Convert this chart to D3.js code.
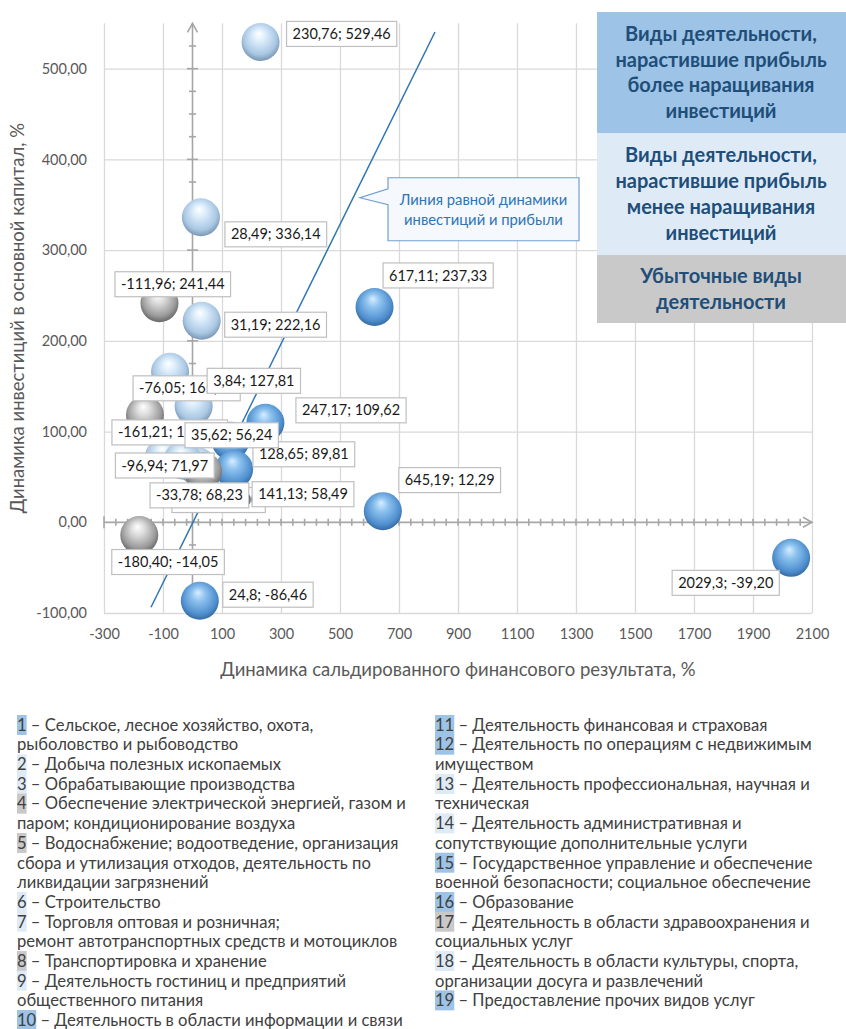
<!DOCTYPE html>
<html>
<head>
<meta charset="UTF-8"/>
<script src="https://d3js.org/d3.v7.min.js"></script>
<title>profit vs investment</title>
<style>
body { margin: 0; background: #fff; }
text { font-family: Lato, 'Open Sans', sans-serif; }
</style>
</head>
<body>
<svg id='big' width=846 height=1029></svg>
<script>
'use strict';

// --- data ---
// profit dynamics (x), investment dynamics (y), group: 0 - profit > invest, 1 - profit < invest, 2 - loss
var profitDyn = [230.76, 28.49, -111.96, 31.19, 617.11, -76.05, 247.17, -161.21, 128.65, 15.00,
                 141.13, -96.94, 3.84, 35.62, -33.78, 645.19, 2029.3, -180.40, 24.8];
var investDyn = [529.46, 336.14, 241.44, 222.16, 237.33, 165.83, 109.62, 118.34, 89.81, 62.00,
                 58.49, 71.97, 127.81, 56.24, 68.23, 12.29, -39.20, -14.05, -86.46];
var groups    = [1, 1, 2, 1, 0, 1, 0, 2, 0, 1,
                 0, 1, 1, 2, 1, 0, 0, 2, 0];
var pointLabels = ['230,76; 529,46', '28,49; 336,14', '-111,96; 241,44', '31,19; 222,16', '617,11; 237,33',
                   '-76,05; 165,83', '247,17; 109,62', '-161,21; 118,34', '128,65; 89,81', '15,00; 62,00',
                   '141,13; 58,49', '-96,94; 71,97', '3,84; 127,81', '35,62; 56,24', '-33,78; 68,23',
                   '645,19; 12,29', '2029,3; -39,20', '-180,40; -14,05', '24,8; -86,46'];

var xTicks = [-300, -100, 100, 300, 500, 700, 900, 1100, 1300, 1500, 1700, 1900, 2100];
var yTicks = [-100, 0, 100, 200, 300, 400, 500];

// equal dynamics line ends
var lineX = [-140.7, 822.0];
var lineY = [-93.7, 540.4];

var groupNames = [
	['Виды деятельности,', 'нарастившие прибыль', 'более наращивания', 'инвестиций'],
	['Виды деятельности,', 'нарастившие прибыль', 'менее наращивания', 'инвестиций'],
	['Убыточные виды', 'деятельности']
];

var legendLeft = [
	[1, 0, ['Сельское, лесное хозяйство, охота,', 'рыболовство и рыбоводство']],
	[2, 1, ['Добыча полезных ископаемых']],
	[3, 1, ['Обрабатывающие производства']],
	[4, 2, ['Обеспечение электрической энергией, газом и', 'паром; кондиционирование воздуха']],
	[5, 2, ['Водоснабжение; водоотведение, организация', 'сбора и утилизация отходов, деятельность по', 'ликвидации загрязнений']],
	[6, 1, ['Строительство']],
	[7, 1, ['Торговля оптовая и розничная;', 'ремонт автотранспортных средств и мотоциклов']],
	[8, 2, ['Транспортировка и хранение']],
	[9, 1, ['Деятельность гостиниц и предприятий', 'общественного питания']],
	[10, 0, ['Деятельность в области информации и связи']]
];
var legendRight = [
	[11, 0, ['Деятельность финансовая и страховая']],
	[12, 0, ['Деятельность по операциям с недвижимым', 'имуществом']],
	[13, 1, ['Деятельность профессиональная, научная и', 'техническая']],
	[14, 1, ['Деятельность административная и', 'сопутствующие дополнительные услуги']],
	[15, 0, ['Государственное управление и обеспечение', 'военной безопасности; социальное обеспечение']],
	[16, 0, ['Образование']],
	[17, 2, ['Деятельность в области здравоохранения и', 'социальных услуг']],
	[18, 1, ['Деятельность в области культуры, спорта,', 'организации досуга и развлечений']],
	[19, 0, ['Предоставление прочих видов услуг']]
];

// label box placement relative to bubble centre: [left, centre y]
var labelPos = [[26, -8], [24, 17], [-44.5, -19], [23, 4], [8.5, -31.5],
                [-37, 16.5], [30.5, -12.5], [-33, 17.5], [22.5, 13.5], [-25, 34],
                [18, 25], [-48.5, 8.5], [13.5, -25.5], [-18, -36], [-32.5, 35],
                [16, -31], [-119, 25], [-27.5, 27], [23, -6]];

var groupFill = ['#9dc3e6', '#deebf7', '#c9c9c9'];

var loc = d3.formatLocale({decimal: ',', thousands: ' ', grouping: [3], currency: ['', ''], minus: '-'});
var fmtY = loc.format('.2f');
var fmtX = loc.format('d');

function main(){
	var svg = d3.select('#big');
	var left = 104, right = 812, top = 23.3, bottom = 613;

	var sx = d3.scaleLinear().domain([-300, 2100]).range([left, right]);
	var sy = d3.scaleLinear().domain([-100, 550]).range([bottom, top]);

	// sphere gradients
	var defs = svg.append('defs');
	var sphereStops = [
		[['#d8eeff', 0], ['#8fc3ef', 0.3], ['#4f8fcf', 0.75], ['#2d5e90', 1]],
		[['#ffffff', 0], ['#dcedfb', 0.28], ['#a9c7e3', 0.72], ['#6a86a4', 1]],
		[['#ffffff', 0], ['#dedede', 0.28], ['#9c9c9c', 0.72], ['#575757', 1]]
	];
	sphereStops.forEach(function(stops, i){
		var g = defs.append('radialGradient')
			.attr('id', 'sph' + i)
			.attr('cx', '50%').attr('cy', '45%').attr('r', '60%')
			.attr('fx', '45%').attr('fy', '28%');
		g.selectAll('stop').data(stops).enter().append('stop')
			.attr('offset', function(d){ return d[1]; })
			.attr('stop-color', function(d){ return d[0]; });
	});

	// grid + tick labels
	var gx = svg.append('g')
		.attr('transform', 'translate(0,' + bottom + ')')
		.call(d3.axisBottom(sx).tickValues(xTicks).tickSize(-(bottom - top)).tickPadding(16).tickFormat(fmtX));
	var gy = svg.append('g')
		.attr('transform', 'translate(' + left + ',0)')
		.call(d3.axisLeft(sy).tickValues(yTicks).tickSize(-(right - left)).tickPadding(17).tickFormat(fmtY));
	[gx, gy].forEach(function(g){
		g.select('.domain').remove();
		g.selectAll('.tick line').attr('stroke', '#d9d9d9').attr('stroke-width', 1.3);
		g.selectAll('.tick text').attr('fill', '#595959').style('font-size', '14.5px').style('font-family', 'Lato, sans-serif');
	});

	// axes through zero
	var axisCol = '#a6a6a6';
	var ax = svg.append('g').attr('stroke', axisCol).attr('stroke-width', 1.6).attr('fill', 'none');
	ax.append('line').attr('x1', left).attr('x2', right).attr('y1', sy(0)).attr('y2', sy(0));
	ax.selectAll('.xt').data(d3.range(-260, 2100, 40)).enter().append('line')
		.attr('x1', function(d){ return sx(d); }).attr('x2', function(d){ return sx(d); })
		.attr('y1', sy(0) - 3.5).attr('y2', sy(0) + 3.5);
	ax.append('line').attr('x1', left).attr('x2', left).attr('y1', sy(0) - 6).attr('y2', sy(0) + 6);
	ax.append('path')
		.attr('d', 'M' + (right - 9) + ',' + (sy(0) - 5) + 'L' + right + ',' + sy(0) + 'L' + (right - 9) + ',' + (sy(0) + 5));

	ax.append('line').attr('x1', sx(0)).attr('x2', sx(0)).attr('y1', bottom).attr('y2', top);
	ax.selectAll('.yt').data(d3.range(-75, 550, 25)).enter().append('line')
		.attr('x1', function(d){ return sx(0) - (d % 100 == 0 ? 5.5 : 3.5); })
		.attr('x2', function(d){ return sx(0) + (d % 100 == 0 ? 5.5 : 3.5); })
		.attr('y1', function(d){ return sy(d); }).attr('y2', function(d){ return sy(d); });
	ax.append('path')
		.attr('d', 'M' + (sx(0) - 5) + ',' + (top + 9) + 'L' + sx(0) + ',' + top + 'L' + (sx(0) + 5) + ',' + (top + 9));

	// axis titles
	svg.append('text')
		.attr('x', (left + right) / 2).attr('y', 676)
		.attr('text-anchor', 'middle').attr('fill', '#595959').style('font-size', '18.5px')
		.text('Динамика сальдированного финансового результата, %');
	svg.append('text')
		.attr('transform', 'translate(24,' + ((top + bottom) / 2) + ') rotate(-90)')
		.attr('text-anchor', 'middle').attr('fill', '#595959').style('font-size', '18.5px')
		.text('Динамика инвестиций в основной капитал, %');

	// equal dynamics line
	svg.append('line')
		.attr('x1', sx(lineX[0])).attr('y1', sy(lineY[0]))
		.attr('x2', sx(lineX[1])).attr('y2', sy(lineY[1]))
		.attr('stroke', '#2e75b6').attr('stroke-width', 1.5);

	// bubbles
	var idx = d3.range(profitDyn.length);
	svg.selectAll('.ball').data(idx).enter().append('circle')
		.attr('class', 'ball')
		.attr('cx', function(i){ return sx(profitDyn[i]); })
		.attr('cy', function(i){ return sy(investDyn[i]); })
		.attr('r', 19)
		.attr('fill', function(i){ return 'url(#sph' + groups[i] + ')'; });

	// data labels
	idx.forEach(function(i){
		var cx = sx(profitDyn[i]) + labelPos[i][0];
		var cy = sy(investDyn[i]) + labelPos[i][1];
		var g = svg.append('g').attr('class', 'dlabel');
		var r = g.append('rect');
		var t = g.append('text')
			.attr('x', cx + 6).attr('y', cy)
			.attr('dy', '0.35em')
			.attr('fill', '#1a1a1a').style('font-size', '14.5px')
			.text(pointLabels[i]);
		var w = t.node().getComputedTextLength();
		r.attr('x', cx).attr('y', cy - 12.5).attr('width', w + 12).attr('height', 25)
			.attr('fill', '#fff').attr('stroke', '#bfbfbf').attr('stroke-width', 1.2);
	});

	// callout for line
	var tipX = sx(567.8), tipY = sy(357.7);
	var bx = tipX + 28, by = tipY - 20, bw = 191, bh = 63;
	svg.append('path')
		.attr('d', 'M' + bx + ',' + by + 'H' + (bx + bw) + 'V' + (by + bh) + 'H' + bx +
			'V' + (tipY + 7) + 'L' + tipX + ',' + tipY + 'L' + bx + ',' + (tipY - 9) + 'Z')
		.attr('fill', '#f5f8fc').attr('stroke', '#6fa0d2').attr('stroke-width', 1.2);
	svg.append('text')
		.attr('x', bx + bw / 2).attr('y', by + 27).attr('text-anchor', 'middle')
		.attr('fill', '#2e75b6').style('font-size', '14.8px')
		.selectAll('tspan').data(['Линия равной динамики', 'инвестиций и прибыли']).enter().append('tspan')
		.attr('x', bx + bw / 2).attr('dy', function(d, i){ return i ? 20 : 0; })
		.text(function(d){ return d; });

	// group legend boxes (top right)
	var boxY = [12, 133, 255, 323];
	groupNames.forEach(function(lines, i){
		svg.append('rect').attr('x', 597).attr('y', boxY[i]).attr('width', 249).attr('height', boxY[i + 1] - boxY[i])
			.attr('fill', groupFill[i]);
		var mid = (boxY[i] + boxY[i + 1]) / 2;
		var t = svg.append('text').attr('text-anchor', 'middle').attr('fill', '#1f4e79')
			.style('font-size', '20px').style('font-weight', 'bold');
		t.selectAll('tspan').data(lines).enter().append('tspan')
			.attr('x', 721)
			.attr('y', function(d, k){ return mid + (k - (lines.length - 1) / 2) * 25.7; })
			.attr('dy', '0.35em')
			.text(function(d){ return d; });
	});

	// activity legend (bottom)
	var legFont = '16.6px';
	function drawLegend(items, x0){
		var row = 0;
		items.forEach(function(item){
			item[2].forEach(function(line, k){
				var yy = 725 + row * 19.67;
				if(k == 0){
					var rect = svg.append('rect');
					var num = svg.append('text').attr('x', x0).attr('y', yy).attr('dy', '0.35em')
						.attr('fill', '#404040').style('font-size', legFont).text(item[0]);
					var nw = num.node().getComputedTextLength();
					rect.attr('x', x0).attr('y', yy - 10).attr('width', nw).attr('height', 20)
						.attr('fill', groupFill[item[1]]);
					svg.append('text').attr('x', x0 + nw).attr('y', yy).attr('dy', '0.35em')
						.attr('fill', '#404040').style('font-size', legFont).text('\u00a0– ' + line);
				}else{
					svg.append('text').attr('x', x0).attr('y', yy).attr('dy', '0.35em')
						.attr('fill', '#404040').style('font-size', legFont).text(line);
				}
				row++;
			});
		});
	}
	drawLegend(legendLeft, 17);
	drawLegend(legendRight, 435);

	return svg;
}

var svg = main();
</script>
</body>
</html>
